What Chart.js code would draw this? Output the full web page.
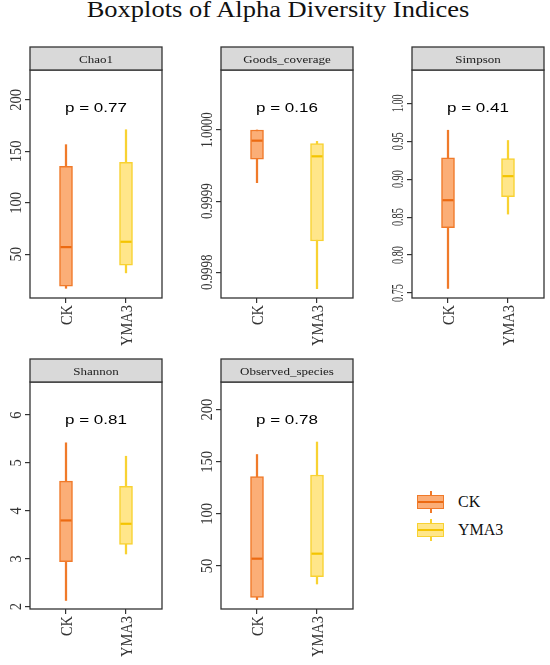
<!DOCTYPE html>
<html lang="en">
  <head>
    <meta charset="UTF-8" />
    <title>Boxplots of Alpha Diversity Indices</title>
    <style>
      body {
        margin: 0;
        width: 550px;
        height: 665px;
        background: #fff;
        position: relative;
        overflow: hidden;
      }
      canvas {
        position: absolute;
      }
      #title {
        position: absolute;
        left: 3px;
        width: 550px;
        top: -2px;
        line-height: 26px;
        text-align: center;
        font-family: "Liberation Serif", serif;
        font-size: 26.5px;
        color: #111;
        transform: scaleY(0.87);
        transform-origin: 0 0;
      }
      .key {
        position: absolute;
        left: 417px;
        width: 27px;
        height: 14px;
        box-sizing: border-box;
        border: 1.5px solid;
      }
      .key .mid {
        position: absolute;
        left: 0;
        right: 0;
        top: 4.5px;
        height: 2px;
      }
      .stub {
        position: absolute;
        left: 430px;
        width: 1.5px;
        height: 4px;
      }
      .ktext {
        position: absolute;
        left: 458px;
        line-height: 16px;
        font-family: "Liberation Serif", serif;
        font-size: 16px;
        color: #111;
      }
    </style>
  </head>
  <body>
    <div id="title">Boxplots of Alpha Diversity Indices</div>
    <canvas id="p0"></canvas>
    <canvas id="p1"></canvas>
    <canvas id="p2"></canvas>
    <canvas id="p3"></canvas>
    <canvas id="p4"></canvas>
    <div id="legend"></div>

    <script src="https://cdn.jsdelivr.net/npm/chart.js"></script>
    <script>
      // groups and indices
      const groups = ["CK", "YMA3"];
      const indices = ["Chao1", "Goods_coverage", "Simpson", "Shannon", "Observed_species"];
      const pValues = ["0.77", "0.16", "0.41", "0.81", "0.78"];

      // [min, q1, median, q3, max]
      const chao1CK = [17, 19.2, 57, 135.4, 156.5];
      const chao1YMA3 = [32, 39.6, 62.2, 139.3, 171];
      const goodsCK = [0.999926, 0.999959, 0.999985, 1.0, 1.0];
      const goodsYMA3 = [0.999777, 0.999844, 0.999963, 0.999981, 0.999984];
      const simpsonCK = [0.756, 0.836, 0.8723, 0.928, 0.9645];
      const simpsonYMA3 = [0.854, 0.877, 0.904, 0.927, 0.951];
      const shannonCK = [2.13, 2.94, 3.8, 4.62, 5.42];
      const shannonYMA3 = [3.1, 3.3, 3.73, 4.51, 5.14];
      const observedCK = [17.7, 19.9, 57, 135.7, 157];
      const observedYMA3 = [32.7, 39.7, 61.8, 137.3, 169];

      // y tick labels
      const chao1Ticks = ["50", "100", "150", "200"];
      const goodsTicks = ["0.9998", "0.9999", "1.0000"];
      const simpsonTicks = ["0.75", "0.80", "0.85", "0.90", "0.95", "1.00"];
      const shannonTicks = ["2", "3", "4", "5", "6"];
      const observedTicks = ["50", "100", "150", "200"];

      const fills = ["#FBAE77", "#FFE68A"];
      const lines = ["#F07A2A", "#F8D232"];
      const medLines = ["#EC6A12", "#F4C400"];

      const panels = [
        { stats: [chao1CK, chao1YMA3], ticks: chao1Ticks, min: 7.6, max: 229, left: 30, top: 70, w: 132, h: 228, sx: 0.85 },
        { stats: [goodsCK, goodsYMA3], ticks: goodsTicks, min: 0.9997639, max: 1.0000843, left: 221, top: 70, w: 132, h: 228, sx: 0.76 },
        { stats: [simpsonCK, simpsonYMA3], ticks: simpsonTicks, min: 0.7434, max: 1.0439, left: 412, top: 70, w: 132, h: 228, sx: 0.6 },
        { stats: [shannonCK, shannonYMA3], ticks: shannonTicks, min: 1.952, max: 6.689, left: 30, top: 382, w: 132, h: 227, sx: 0.85 },
        { stats: [observedCK, observedYMA3], ticks: observedTicks, min: 8.7, max: 226.6, left: 221, top: 382, w: 132, h: 227, sx: 0.85 },
      ];

      const STRIP = 23;
      const PADTOP = 5 + STRIP;
      const YW = 30;
      const XH = 52;

      // vertical text reading bottom-to-top, squeezed along the text
      const vText = (ctx, txt, x, y, sx) => {
        ctx.save();
        ctx.translate(x, y);
        ctx.rotate(-Math.PI / 2);
        ctx.scale(sx, 1);
        ctx.fillText(txt, 0, 0);
        ctx.restore();
      };

      const makePlugin = (k) => {
        const cfg = panels[k];
        return {
          id: "panel" + k,
          afterDatasetsDraw(chart) {
            const { ctx, scales } = chart;
            const meta = chart.getDatasetMeta(0);
            ctx.save();
            meta.data.forEach((bar, i) => {
              const py = scales.y.getPixelForValue(cfg.stats[i][2]);
              ctx.strokeStyle = medLines[i];
              ctx.lineWidth = 2.2;
              ctx.beginPath();
              ctx.moveTo(bar.x - bar.width / 2 + 1, py);
              ctx.lineTo(bar.x + bar.width / 2 - 1, py);
              ctx.stroke();
            });
            ctx.restore();
          },
          afterDraw(chart) {
            const { ctx, chartArea: a, scales } = chart;
            const w = a.right - a.left;
            ctx.save();
            // frame
            ctx.strokeStyle = "#333";
            ctx.lineWidth = 1.3;
            ctx.strokeRect(a.left, a.top, w, a.bottom - a.top);
            // strip
            ctx.fillStyle = "#d9d9d9";
            ctx.fillRect(a.left, a.top - STRIP, w, STRIP);
            ctx.strokeRect(a.left, a.top - STRIP, w, STRIP);
            ctx.fillStyle = "#1a1a1a";
            ctx.font = '13px "Liberation Serif"';
            ctx.textAlign = "center";
            ctx.textBaseline = "alphabetic";
            ctx.save();
            ctx.translate((a.left + a.right) / 2, a.top - 7);
            ctx.scale(1, 0.8);
            ctx.fillText(indices[k], 0, 0);
            ctx.restore();
            // p value
            ctx.fillStyle = "#000";
            ctx.font = '17px "Liberation Sans"';
            ctx.save();
            ctx.translate((a.left + a.right) / 2, a.top + 42);
            ctx.scale(1, 0.8);
            ctx.fillText("p = " + pValues[k], 0, 0);
            ctx.restore();
            // y tick labels
            ctx.fillStyle = "#333";
            ctx.font = '17px "Liberation Serif"';
            ctx.textAlign = "center";
            cfg.ticks.forEach((t) => {
              vText(ctx, t, a.left - 9, scales.y.getPixelForValue(parseFloat(t)), cfg.sx);
            });
            // x tick labels
            ctx.textAlign = "right";
            groups.forEach((g, i) => {
              vText(ctx, g, scales.x.getPixelForValue(i + 1) + 5.6, a.bottom + 7, 0.85);
            });
            ctx.restore();
          },
        };
      };

      panels.forEach((cfg, k) => {
        const canvas = document.getElementById("p" + k);
        const cw = YW + cfg.w + 4;
        const ch = PADTOP + cfg.h + XH;
        canvas.width = cw;
        canvas.height = ch;
        canvas.style.width = cw + "px";
        canvas.style.height = ch + "px";
        canvas.style.left = cfg.left - YW + "px";
        canvas.style.top = cfg.top - PADTOP + "px";

        const axisGrid = {
          display: true,
          offset: false,
          drawOnChartArea: false,
          drawTicks: true,
          tickLength: 5,
          color: "#333",
          lineWidth: 1.2,
        };

        new Chart(canvas, {
          type: "bar",
          data: {
            datasets: [
              {
                label: "box",
                data: cfg.stats.map((s, i) => ({ x: i + 1, y: [s[1], s[3]] })),
                backgroundColor: fills,
                borderColor: lines,
                borderWidth: 1.5,
                borderSkipped: false,
                barThickness: 13,
                grouped: false,
              },
              {
                label: "whisker",
                data: cfg.stats.map((s, i) => ({ x: i + 1, y: [s[0], s[4]] })),
                backgroundColor: lines,
                borderWidth: 0,
                barThickness: 1.6,
                grouped: false,
              },
            ],
          },
          options: {
            responsive: false,
            animation: false,
            devicePixelRatio: 1,
            layout: { padding: { top: PADTOP, right: 4, left: 0, bottom: 0 } },
            plugins: { legend: { display: false }, tooltip: { enabled: false } },
            scales: {
              x: {
                type: "linear",
                min: 0.4,
                max: 2.6,
                offset: false,
                afterBuildTicks: (s) => {
                  s.ticks = groups.map((g, i) => ({ value: i + 1 }));
                },
                afterFit: (s) => {
                  s.height = XH;
                },
                ticks: { display: false },
                grid: axisGrid,
                border: { display: false },
              },
              y: {
                min: cfg.min,
                max: cfg.max,
                afterBuildTicks: (s) => {
                  s.ticks = cfg.ticks.map((t) => ({ value: parseFloat(t) }));
                },
                afterFit: (s) => {
                  s.width = YW;
                },
                ticks: { display: false },
                grid: axisGrid,
                border: { display: false },
              },
            },
          },
          plugins: [makePlugin(k)],
        });
      });

      // legend keys
      const legend = document.getElementById("legend");
      const keyTops = [495, 523];
      groups.forEach((g, i) => {
        const top = keyTops[i];
        legend.insertAdjacentHTML(
          "beforeend",
          `<div class="stub" style="top:${top - 4}px;background:${lines[i]}"></div>` +
            `<div class="stub" style="top:${top + 14}px;background:${lines[i]}"></div>` +
            `<div class="key" style="top:${top}px;background:${fills[i]};border-color:${lines[i]}">` +
            `<div class="mid" style="background:${medLines[i]}"></div></div>` +
            `<div class="ktext" style="top:${top - 1}px">${g}</div>`
        );
      });
    </script>
  </body>
</html>
